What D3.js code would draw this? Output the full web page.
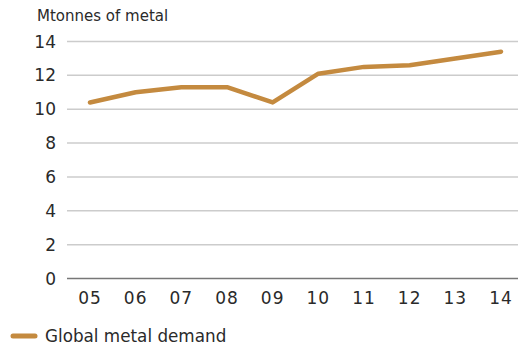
<!DOCTYPE html>
<html>
<head>
<meta charset="utf-8">
<script src="https://cdn.jsdelivr.net/npm/d3@7"></script>
<style>
  body { margin: 0; background: #fff; }
  svg text { font-family: "DejaVu Sans", sans-serif; fill: #2a2a2a; }
</style>
</head>
<body>
<div id="chart"></div>
<script>
// chart data
const years = ["05", "06", "07", "08", "09", "10", "11", "12", "13", "14"];
const demand = [10.4, 11.0, 11.3, 11.3, 10.4, 12.1, 12.5, 12.6, 13.0, 13.4];
const yTicks = [0, 2, 4, 6, 8, 10, 12, 14];

const width = 518, height = 347;
const margin = {top: 42, right: 0, bottom: 68, left: 67};

const svg = d3.select("#chart")
    .append("svg")
    .attr("width", width)
    .attr("height", height);

const x = d3.scalePoint()
    .domain(years)
    .range([90, 501]);

const y = d3.scaleLinear()
    .domain([0, 14])
    .range([height - margin.bottom - 0.5, margin.top - 0.5]);

// gridlines
svg.append("g")
    .selectAll("line")
    .data(yTicks)
    .enter().append("line")
    .attr("x1", margin.left)
    .attr("x2", width)
    .attr("y1", d => y(d))
    .attr("y2", d => y(d))
    .attr("stroke", d => d === 0 ? "#777" : "#ccc")
    .attr("stroke-width", 1.5);

// y labels
svg.append("g")
    .selectAll("text")
    .data(yTicks)
    .enter().append("text")
    .attr("x", 56)
    .attr("y", d => y(d))
    .attr("dy", "0.36em")
    .attr("text-anchor", "end")
    .style("font-size", "17px")
    .text(d => d);

// x labels
svg.append("g")
    .selectAll("text")
    .data(years)
    .enter().append("text")
    .attr("x", d => x(d))
    .attr("y", 304)
    .attr("text-anchor", "middle")
    .style("font-size", "17px")
    .style("letter-spacing", "1px")
    .text(d => d);

// unit title
svg.append("text")
    .attr("x", 37)
    .attr("y", 21)
    .style("font-size", "15px")
    .text("Mtonnes of metal");

// the line
const line = d3.line()
    .x((d, i) => x(years[i]))
    .y(d => y(d));

svg.append("path")
    .datum(demand)
    .attr("d", line)
    .attr("fill", "none")
    .attr("stroke", "#c48a3f")
    .attr("stroke-width", 4.5)
    .attr("stroke-linecap", "round")
    .attr("stroke-linejoin", "round");

// legend
svg.append("line")
    .attr("x1", 13)
    .attr("x2", 35)
    .attr("y1", 336)
    .attr("y2", 336)
    .attr("stroke", "#c48a3f")
    .attr("stroke-width", 5)
    .attr("stroke-linecap", "round");

svg.append("text")
    .attr("x", 45)
    .attr("y", 342)
    .style("font-size", "16.8px")
    .text("Global metal demand");
</script>
</body>
</html>
